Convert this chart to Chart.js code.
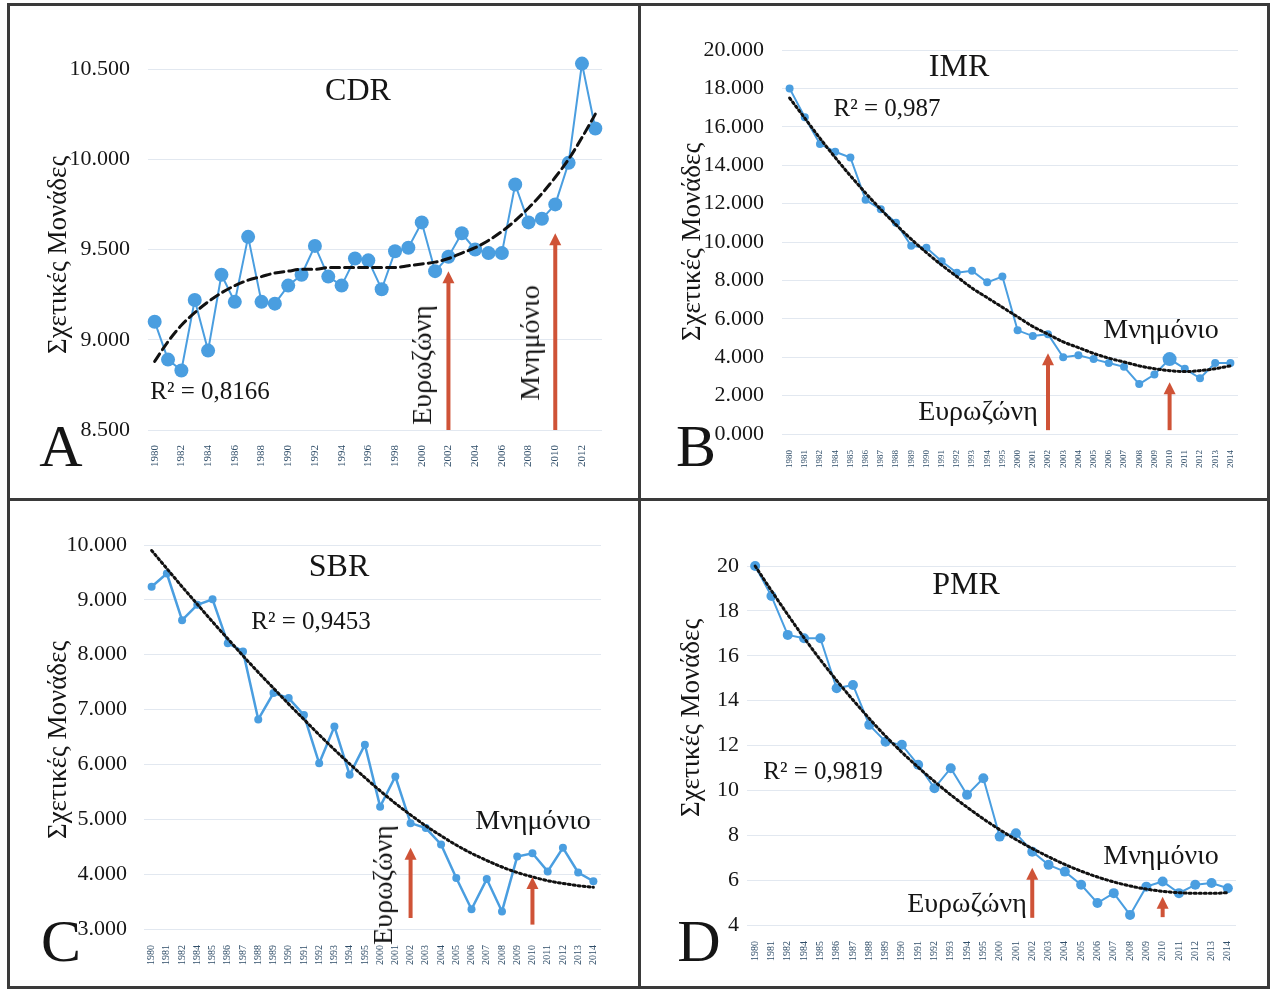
<!DOCTYPE html>
<html lang="el">
<head>
<meta charset="utf-8">
<title>CDR, IMR, SBR, PMR</title>
<script src="https://cdn.jsdelivr.net/npm/chart.js@4.4.1/dist/chart.umd.min.js"></script>
<style>
  html, body { margin: 0; padding: 0; background: #fff; }
  body { width: 1272px; height: 989px; position: relative; overflow: hidden;
         font-family: "Liberation Serif", "DejaVu Serif", serif; }
  .panel { position: absolute; border: 3px solid #3a3a3a; box-sizing: border-box; }
  .txt { position: absolute; white-space: nowrap; line-height: 1; color: #151515; z-index: 5; }
</style>
</head>
<body>
<div class="panel" style="left:7px;top:3px;width:634px;height:498px"></div>
<div class="panel" style="left:638px;top:3px;width:632px;height:498px"></div>
<div class="panel" style="left:7px;top:498px;width:634px;height:491px"></div>
<div class="panel" style="left:638px;top:498px;width:632px;height:491px"></div>

<script>
"use strict";

// A - CDR, every year 1980-2013
const yearsA = ['1980','1981','1982','1983','1984','1985','1986','1987','1988','1989',
  '1990','1991','1992','1993','1994','1995','1996','1997','1998','1999',
  '2000','2001','2002','2003','2004','2005','2006','2007','2008','2009',
  '2010','2011','2012','2013'];
const cdr = [9.10, 8.89, 8.83, 9.22, 8.94, 9.36, 9.21, 9.57, 9.21, 9.20,
  9.30, 9.36, 9.52, 9.35, 9.30, 9.45, 9.44, 9.28, 9.49, 9.51,
  9.65, 9.38, 9.46, 9.59, 9.50, 9.48, 9.48, 9.86, 9.65, 9.67,
  9.75, 9.98, 10.53, 10.17];
const cdrTrend = [8.88, 8.99, 9.08, 9.15, 9.21, 9.26, 9.30, 9.33, 9.35, 9.37,
  9.38, 9.39, 9.39, 9.40, 9.40, 9.40, 9.40, 9.40, 9.40, 9.41,
  9.42, 9.43, 9.45, 9.48, 9.51, 9.55, 9.60, 9.66, 9.73, 9.81,
  9.90, 10.00, 10.12, 10.25];

// B, C, D share the same 30 years
const yearsB = ['1980','1981','1982','1984','1985','1986','1987','1988','1989','1990',
  '1991','1992','1993','1994','1995','2000','2001','2002','2003','2004',
  '2005','2006','2007','2008','2009','2010','2011','2012','2013','2014'];

const imr = [18.0, 16.5, 15.1, 14.7, 14.4, 12.2, 11.7, 11.0, 9.8, 9.7,
  9.0, 8.4, 8.5, 7.9, 8.2, 5.4, 5.1, 5.2, 4.0, 4.1,
  3.9, 3.7, 3.5, 2.6, 3.1, 3.9, 3.4, 2.9, 3.7, 3.7];
const imrTrend = [17.5, 16.45, 15.4, 14.4, 13.45, 12.55, 11.7, 10.9, 10.15, 9.45,
  8.8, 8.2, 7.6, 7.1, 6.6, 6.1, 5.6, 5.2, 4.8, 4.5,
  4.2, 3.95, 3.75, 3.55, 3.4, 3.3, 3.25, 3.3, 3.4, 3.55];

const sbr = [9.24, 9.48, 8.63, 8.91, 9.01, 8.21, 8.06, 6.82, 7.30, 7.21,
  6.90, 6.02, 6.69, 5.81, 6.36, 5.23, 5.78, 4.93, 4.84, 4.54,
  3.93, 3.36, 3.91, 3.32, 4.32, 4.38, 4.05, 4.48, 4.03, 3.87];
const sbrTrend = [9.9, 9.57, 9.24, 8.92, 8.6, 8.29, 7.98, 7.68, 7.39, 7.1,
  6.82, 6.54, 6.27, 6.01, 5.76, 5.52, 5.29, 5.08, 4.88, 4.7,
  4.53, 4.38, 4.25, 4.13, 4.03, 3.95, 3.88, 3.83, 3.79, 3.76];

const pmr = [20.0, 18.66, 16.93, 16.78, 16.78, 14.55, 14.7, 12.92, 12.17, 12.03,
  11.14, 10.1, 10.99, 9.8, 10.54, 7.94, 8.09, 7.27, 6.68, 6.38,
  5.79, 4.98, 5.42, 4.45, 5.71, 5.94, 5.42, 5.79, 5.87, 5.64];
const pmrTrend = [20.0, 18.9, 17.83, 16.8, 15.82, 14.9, 14.03, 13.2, 12.42, 11.7,
  11.03, 10.4, 9.8, 9.25, 8.73, 8.25, 7.81, 7.41, 7.04, 6.7,
  6.4, 6.14, 5.92, 5.74, 5.6, 5.5, 5.44, 5.41, 5.41, 5.44];

const euroYear = '2002';
const memoYear = '2010';

const BLUE = '#4a9ee0';
const RED = '#cf5337';
Chart.defaults.font.family = "'Liberation Serif', 'DejaVu Serif', serif";

// red arrows drawn at a category, between two y values
const arrowPlugin = {
  id: 'arrows',
  afterDatasetsDraw(chart, args, opts) {
    const ctx = chart.ctx, xs = chart.scales.x, ys = chart.scales.y;
    (opts.list || []).forEach(a => {
      const x = xs.getPixelForValue(chart.data.labels.indexOf(a.at));
      const y0 = ys.getPixelForValue(a.from), y1 = ys.getPixelForValue(a.to);
      const head = 12;
      ctx.save();
      ctx.strokeStyle = RED; ctx.fillStyle = RED; ctx.lineWidth = 4;
      ctx.beginPath(); ctx.moveTo(x, y0); ctx.lineTo(x, y1 + head - 1); ctx.stroke();
      ctx.beginPath(); ctx.moveTo(x, y1); ctx.lineTo(x - 6, y1 + head); ctx.lineTo(x + 6, y1 + head);
      ctx.closePath(); ctx.fill();
      ctx.restore();
    });
  }
};

function makeChart(box, area, labels, values, trend, o) {
  const wrap = document.createElement('div');
  wrap.style.cssText = `position:absolute;left:${box[0]}px;top:${box[1]}px;width:${box[2]}px;height:${box[3]}px`;
  const cv = document.createElement('canvas');
  wrap.appendChild(cv);
  document.body.appendChild(wrap);
  const yW = area.left - box[0];
  const xH = box[1] + box[3] - area.bottom;
  return new Chart(cv, {
    type: 'line',
    data: {
      labels: labels,
      datasets: [{
        data: trend,
        borderColor: '#111',
        borderWidth: o.trendWidth,
        borderDash: o.dash,
        borderCapStyle: 'round',
        pointRadius: 0,
        cubicInterpolationMode: 'monotone',
        clip: false,
        fill: false
      }, {
        data: values,
        borderColor: BLUE,
        backgroundColor: BLUE,
        borderWidth: o.lineWidth,
        pointRadius: o.radius,
        pointBorderWidth: 0,
        pointBackgroundColor: BLUE,
        tension: 0,
        clip: false,
        fill: false
      }]
    },
    options: {
      responsive: true,
      maintainAspectRatio: false,
      animation: false,
      layout: { padding: { left: 0, top: area.top - box[1], right: box[0] + box[2] - area.right, bottom: 0 } },
      plugins: {
        legend: { display: false },
        tooltip: { enabled: false },
        arrows: { list: o.arrows }
      },
      scales: {
        x: {
          offset: true,
          grid: { display: false },
          border: { display: false },
          afterFit: s => { s.height = xH; },
          ticks: {
            autoSkip: false, minRotation: 90, maxRotation: 90, padding: o.xPad,
            color: '#2f4d68', font: { size: o.xFont },
            callback: o.xCallback || function (v) { return this.getLabelForValue(v); }
          }
        },
        y: {
          min: o.min, max: o.max,
          afterFit: s => { s.width = yW; },
          grid: { color: '#e2e8f0', lineWidth: 1, drawTicks: false },
          border: { display: false },
          ticks: {
            stepSize: o.step, padding: o.yPad, color: '#161616', font: { size: 22 },
            callback: o.yFormat
          }
        }
      }
    },
    plugins: [arrowPlugin]
  });
}

const fmt3 = v => v.toFixed(3);

makeChart([11, 9, 624, 486], { left: 148, right: 602, top: 69, bottom: 430 }, yearsA, cdr, cdrTrend, {
  min: 8.5, max: 10.5, step: 0.5, yFormat: fmt3, yPad: 18,
  radius: 7, lineWidth: 2, trendWidth: 3, dash: [9, 5],
  xFont: 11, xPad: 7,
  xCallback: function (v, i) { return i % 2 === 0 ? this.getLabelForValue(v) : ''; },
  arrows: [{ at: euroYear, from: 8.5, to: 9.38 }, { at: memoYear, from: 8.5, to: 9.59 }]
});

makeChart([643, 9, 623, 486], { left: 782, right: 1238, top: 50, bottom: 434 }, yearsB, imr, imrTrend, {
  min: 0, max: 20, step: 2, yFormat: fmt3, yPad: 18,
  radius: ctx => (yearsB[ctx.dataIndex] === memoYear ? 7 : 4), lineWidth: 2, trendWidth: 3, dash: [2, 3],
  xFont: 9, xPad: 8,
  arrows: [{ at: euroYear, from: 0.2, to: 4.2 }, { at: memoYear, from: 0.2, to: 2.7 }]
});

makeChart([11, 503, 624, 482], { left: 144, right: 601, top: 545, bottom: 929 }, yearsB, sbr, sbrTrend, {
  min: 3, max: 10, step: 1, yFormat: fmt3, yPad: 17,
  radius: 4, lineWidth: 2.5, trendWidth: 3, dash: [2, 3],
  xFont: 10, xPad: 8,
  arrows: [{ at: euroYear, from: 3.2, to: 4.48 }, { at: memoYear, from: 3.08, to: 3.95 }]
});

makeChart([643, 503, 623, 482], { left: 747, right: 1236, top: 566, bottom: 925 }, yearsB, pmr, pmrTrend, {
  min: 4, max: 20, step: 2, yFormat: v => String(v), yPad: 8,
  radius: 5, lineWidth: 2, trendWidth: 3, dash: [2, 3],
  xFont: 10, xPad: 8,
  arrows: [{ at: euroYear, from: 4.32, to: 6.55 }, { at: memoYear, from: 4.35, to: 5.26 }]
});

// text labels, centred on (x, y)
function put(text, x, y, size, rot) {
  const d = document.createElement('div');
  d.className = 'txt';
  d.textContent = text;
  d.style.left = x + 'px';
  d.style.top = y + 'px';
  d.style.fontSize = size + 'px';
  d.style.transform = 'translate(-50%,-50%)' + (rot ? ' rotate(-90deg)' : '');
  document.body.appendChild(d);
}

const yTitle = 'Σχετικές Μονάδες';
put('CDR', 358, 89, 32); put('R² = 0,8166', 210, 390, 25);
put('Ευρωζώνη', 422, 365, 28, true); put('Μνημόνιο', 530, 343, 28, true);
put('A', 61, 446, 60); put(yTitle, 57, 255, 27, true);

put('IMR', 959, 65, 32); put('R² = 0,987', 887, 107, 25);
put('Μνημόνιο', 1161, 329, 28); put('Ευρωζώνη', 978, 411, 28);
put('B', 696, 446, 60); put(yTitle, 691, 242, 27, true);

put('SBR', 339, 565, 32); put('R² = 0,9453', 311, 620, 25);
put('Μνημόνιο', 533, 820, 28); put('Ευρωζώνη', 383, 885, 28, true);
put('C', 61, 941, 60); put(yTitle, 57, 740, 27, true);

put('PMR', 966, 583, 32); put('R² = 0,9819', 823, 770, 25);
put('Μνημόνιο', 1161, 855, 28); put('Ευρωζώνη', 967, 903, 28);
put('D', 699, 941, 60); put(yTitle, 690, 718, 27, true);
</script>
</body>
</html>
